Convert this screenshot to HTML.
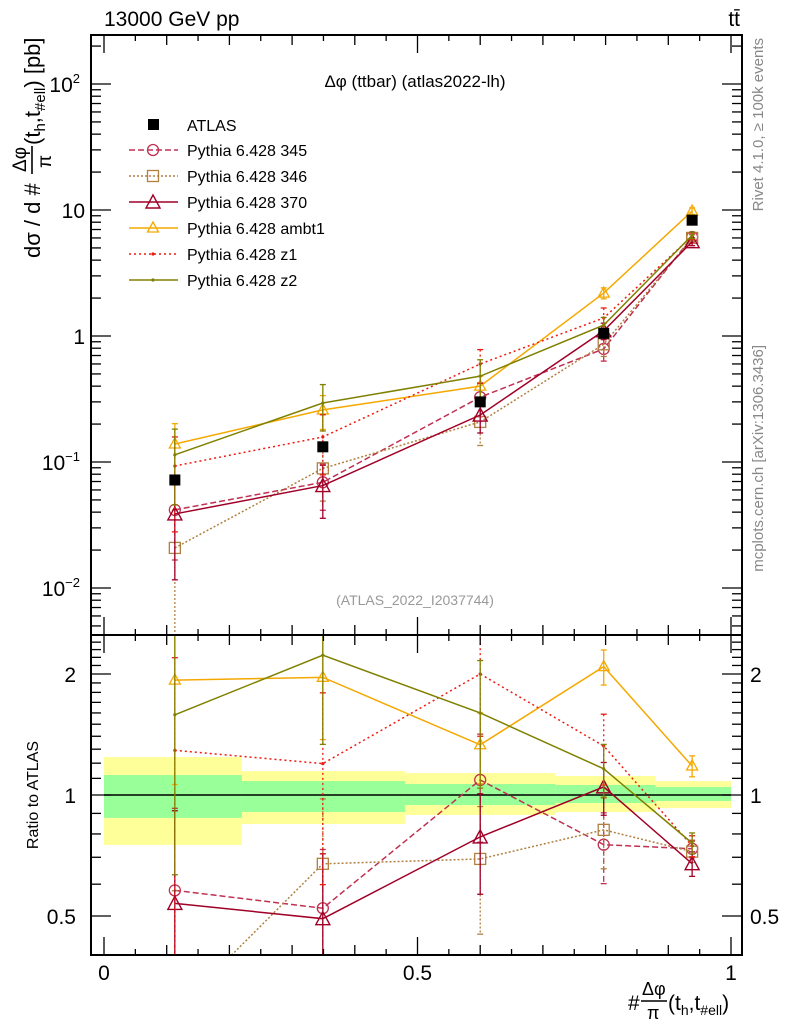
<!DOCTYPE html>
<html><head><meta charset="utf-8"><style>
html,body{margin:0;background:#fff;overflow:hidden;width:786px;height:1024px}
svg{display:block;font-family:"Liberation Sans",sans-serif}
</style></head><body>
<svg id="c" width="786" height="1024" viewBox="0 0 786 1024" xmlns="http://www.w3.org/2000/svg"></svg>
<script>
const xCenters=[0.113,0.349,0.6,0.797,0.938];
const binEdges=[0,0.22,0.48,0.72,0.88,1];
const atlasVals=[0.072,0.132,0.30,1.05,8.3];
const atlasErr=[0.06,0.05,0.05,0.04,0.03];
const bandYellowHi=[1.243,1.147,1.134,1.115,1.083];
const bandYellowLo=[0.751,0.847,0.892,0.907,0.928];
const bandGreenHi=[1.121,1.083,1.065,1.059,1.047];
const bandGreenLo=[0.877,0.907,0.944,0.955,0.966];
const v345=[0.0417,0.069,0.327,0.79,6.1];
const v346=[0.0208,0.089,0.208,0.86,6.0];
const v370=[0.0387,0.065,0.236,1.10,5.6];
const vAmbt1=[0.139,0.259,0.40,2.19,9.8];
const vZ1=[0.093,0.158,0.60,1.39,6.2];
const vZ2=[0.114,0.294,0.48,1.22,6.3];
const e345=[0.6,0.4,0.3,0.2,0.05];
const e346=[1.0,0.45,0.35,0.2,0.06];
const e370=[0.7,0.45,0.28,0.15,0.07];
const eAmbt1=[0.45,0.3,0.2,0.1,0.06];
const eZ1=[0.7,0.5,0.3,0.2,0.06];
const eZ2=[0.6,0.4,0.35,0.15,0.06];

const NS="http://www.w3.org/2000/svg";
const svg=document.getElementById('c');
const L=91,R=742,T=35,MB=635,RB=955;
const X=v=>104+627*v;
const Y=v=>336-126*Math.log10(v);
const YR=v=>795-402*Math.log10(v);
function el(tag,attrs,parent){const e=document.createElementNS(NS,tag);for(const k in attrs)e.setAttribute(k,attrs[k]);(parent||svg).appendChild(e);return e;}
function txt(s,attrs,parent){const e=el('text',attrs,parent);e.textContent=s;return e;}

const defs=el('defs',{});
const c1=el('clipPath',{id:'cm'},defs);el('rect',{x:L,y:T,width:R-L,height:MB-T},c1);
const c2=el('clipPath',{id:'cr'},defs);el('rect',{x:L,y:MB,width:R-L,height:RB-MB},c2);

const bands=el('g',{'clip-path':'url(#cr)'});


for(let i=0;i<5;i++){
  const r1=el('rect',{x:X(binEdges[i]),y:YR(bandYellowHi[i]),width:X(binEdges[i+1])-X(binEdges[i]),height:YR(bandYellowLo[i])-YR(bandYellowHi[i]),fill:'#ffff99'},bands);
  
  
  const r2=el('rect',{x:X(binEdges[i]),y:YR(bandGreenHi[i]),width:X(binEdges[i+1])-X(binEdges[i]),height:YR(bandGreenLo[i])-YR(bandGreenHi[i]),fill:'#99ff99'},bands);
  
  
}
el('line',{x1:X(0),x2:X(1),y1:YR(1),y2:YR(1),stroke:'#000','stroke-width':1.5});

const series=[
 {name:'Pythia 6.428 345',v:v345,e:e345,col:'#c03050',dash:'6,3',mk:'circle'},
 {name:'Pythia 6.428 346',v:v346,e:e346,col:'#b08040',dash:'2,2',mk:'square'},
 {name:'Pythia 6.428 370',v:v370,e:e370,col:'#a00028',dash:'',mk:'tri'},
 {name:'Pythia 6.428 ambt1',v:vAmbt1,e:eAmbt1,col:'#f5a800',dash:'',mk:'trismall'},
 {name:'Pythia 6.428 z1',v:vZ1,e:eZ1,col:'#ee1a10',dash:'2,3',mk:'dot'},
 {name:'Pythia 6.428 z2',v:vZ2,e:eZ2,col:'#808000',dash:'',mk:'dot'}
];
function marker(g,mk,x,y,col){
  if(mk==='circle')el('circle',{cx:x,cy:y,r:5.5,fill:'none',stroke:col,'stroke-width':1.3},g);
  else if(mk==='square')el('rect',{x:x-5.5,y:y-5.5,width:11,height:11,fill:'none',stroke:col,'stroke-width':1.3},g);
  else if(mk==='tri')el('polygon',{points:`${x},${y-7} ${x-7},${y+6} ${x+7},${y+6}`,fill:'none',stroke:col,'stroke-width':1.4},g);
  else if(mk==='trismall')el('polygon',{points:`${x},${y-6} ${x-5.5},${y+4} ${x+5.5},${y+4}`,fill:'none',stroke:col,'stroke-width':1.3},g);
  else el('circle',{cx:x,cy:y,r:1.6,fill:col},g);
}
function drawSeries(s,ratio){
  const g=el('g',{'clip-path':ratio?'url(#cr)':'url(#cm)'});
  
  
  const pts=s.v.map((v,i)=>{const val=ratio?v/atlasVals[i]:v;return [X(xCenters[i]),ratio?YR(val):Y(val),val];});
  el('polyline',{points:pts.map(p=>p[0]+','+p[1]).join(' '),fill:'none',stroke:s.col,'stroke-width':1.5,'stroke-dasharray':s.dash},g);
  pts.forEach((p,i)=>{
    const hi=p[2]*(1+s.e[i]),lo=Math.max(p[2]*(1-s.e[i]),1e-4);
    const yh=ratio?YR(hi):Y(hi),yl=ratio?YR(lo):Y(lo);
    el('line',{x1:p[0],x2:p[0],y1:yh,y2:yl,stroke:s.col,'stroke-width':1.3,'stroke-dasharray':s.dash},g);
    el('line',{x1:p[0]-3,x2:p[0]+3,y1:yh,y2:yh,stroke:s.col,'stroke-width':1.3},g);
    el('line',{x1:p[0]-3,x2:p[0]+3,y1:yl,y2:yl,stroke:s.col,'stroke-width':1.3},g);
    marker(g,s.mk,p[0],p[1],s.col);
  });
}
series.forEach(s=>{drawSeries(s,false);drawSeries(s,true);});

const ag=el('g',{'clip-path':'url(#cm)'});


atlasVals.forEach((v,i)=>{
  const x=X(xCenters[i]);
  el('line',{x1:x,x2:x,y1:Y(v*(1+atlasErr[i])),y2:Y(v*(1-atlasErr[i])),stroke:'#000','stroke-width':1.3},ag);
  el('rect',{x:x-5.5,y:Y(v)-5.5,width:11,height:11,fill:'#000'},ag);
});

el('rect',{x:L,y:T,width:R-L,height:MB-T,fill:'none',stroke:'#000','stroke-width':2});
el('rect',{x:L,y:MB,width:R-L,height:RB-MB,fill:'none',stroke:'#000','stroke-width':2});

for(let k=0;k<=20;k++){
  const v=k*0.05,x=X(v),maj=k%10===0,len=maj?18:(k%2===0?10:6);
  [T,MB].forEach(y0=>el('line',{x1:x,x2:x,y1:y0,y2:y0+len,stroke:'#000','stroke-width':1.3}));
  [MB,RB].forEach(y0=>el('line',{x1:x,x2:x,y1:y0,y2:y0-len,stroke:'#000','stroke-width':1.3}));
}
const xTickLabels=['0','0.5','1'];
[0,0.5,1].forEach((v,i)=>{const t=txt(xTickLabels[i],{x:X(v),y:980,'font-size':21,'text-anchor':'middle'});
 });

for(let d=-3;d<=2;d++){
  for(let m=1;m<=9;m++){
    const v=m*Math.pow(10,d),y=Y(v);if(y<T||y>MB)continue;
    const len=m===1?20:10;
    el('line',{x1:L,x2:L+len,y1:y,y2:y,stroke:'#000','stroke-width':1.3});
    el('line',{x1:R,x2:R-len,y1:y,y2:y,stroke:'#000','stroke-width':1.3});
  }
}
const yLabs=[[100,'10','2'],[10,'10',''],[1,'1',''],[0.1,'10','−1'],[0.01,'10','−2']];
yLabs.forEach(([v,b,e])=>{
  const t=el('text',{x:e?80:85,y:Y(v)+8,'font-size':21,'text-anchor':'end'});
  
  t.textContent=b;
  if(e){const s=el('tspan',{'font-size':13,dy:-9},t);s.textContent=e;}
});
for(let k=4;k<=25;k++){
  const v=k/10,y=YR(v);if(y<MB||y>RB)continue;
  const maj=(k===5||k===10||k===20),len=maj?20:10;
  el('line',{x1:L,x2:L+len,y1:y,y2:y,stroke:'#000','stroke-width':1.3});
  el('line',{x1:R,x2:R-len,y1:y,y2:y,stroke:'#000','stroke-width':1.3});
}
[[2,'2'],[1,'1'],[0.5,'0.5']].forEach(([v,s])=>{
  txt(s,{x:76,y:YR(v)+8,'font-size':21,'text-anchor':'end'});
  txt(s,{x:750,y:YR(v)+8,'font-size':21});
});

txt('13000 GeV pp',{x:104,y:26,'font-size':21});
txt('tt̄',{x:740,y:26,'font-size':21,'text-anchor':'end'});
txt('Δφ (ttbar) (atlas2022-lh)',{x:415,y:87,'font-size':17,'text-anchor':'middle'});
txt('(ATLAS_2022_I2037744)',{x:415,y:605,'font-size':14,fill:'#999','text-anchor':'middle'});
txt('Rivet 4.1.0, ≥ 100k events',{x:0,y:0,'font-size':15,fill:'#888','text-anchor':'end',transform:'translate(763,38) rotate(-90)'});
txt('mcplots.cern.ch [arXiv:1306.3436]',{x:0,y:0,'font-size':15,fill:'#888','text-anchor':'end',transform:'translate(763,345) rotate(-90)'});
txt('Ratio to ATLAS',{x:0,y:0,'font-size':16,'text-anchor':'middle',transform:'translate(38,795) rotate(-90)'});

// y-axis title (rotated) with fraction
const yg=el('g',{transform:'translate(40,258) rotate(-90)'});

txt('dσ / d #',{x:0,y:0,'font-size':22},yg);
txt('Δφ',{x:86,y:-14,'font-size':19},yg);
el('line',{x1:84,x2:112,y1:-8,y2:-8,stroke:'#000','stroke-width':1.6},yg);
txt('π',{x:90,y:11,'font-size':19},yg);
const yt2=el('text',{x:113,y:0,'font-size':22},yg);
yt2.textContent='(t';
const s1=el('tspan',{'font-size':15,dy:5},yt2);s1.textContent='h';
const s2=el('tspan',{dy:-5},yt2);s2.textContent=',t';
const s3=el('tspan',{'font-size':15,dy:5},yt2);s3.textContent='#ell';
const s4=el('tspan',{dy:-5},yt2);s4.textContent=') [pb]';

// x-axis title with fraction
const xg=el('g',{});

txt('#',{x:628,y:1010,'font-size':21},xg);
txt('Δφ',{x:642,y:995,'font-size':18},xg);
el('line',{x1:641,x2:667,y1:1001,y2:1001,stroke:'#000','stroke-width':1.5},xg);
txt('π',{x:647,y:1019,'font-size':18},xg);
const xt=el('text',{x:668,y:1010,'font-size':21},xg);
xt.textContent='(t';
const t1=el('tspan',{'font-size':14,dy:5},xt);t1.textContent='h';
const t2=el('tspan',{dy:-5},xt);t2.textContent=',t';
const t3=el('tspan',{'font-size':14,dy:5},xt);t3.textContent='#ell';
const t4=el('tspan',{dy:-5},xt);t4.textContent=')';

const lg=el('g',{});

el('rect',{x:148,y:119,width:11,height:11,fill:'#000'},lg);
txt('ATLAS',{x:187,y:131,'font-size':16},lg);
series.forEach((s,i)=>{
  const y=150+i*26;
  el('line',{x1:129,x2:178,y1:y,y2:y,stroke:s.col,'stroke-width':1.5,'stroke-dasharray':s.dash},lg);
  marker(lg,s.mk,153,y,s.col);
  const t=txt(s.name,{x:187,y:y+6,'font-size':16},lg);
  
});
</script>
</body></html>
